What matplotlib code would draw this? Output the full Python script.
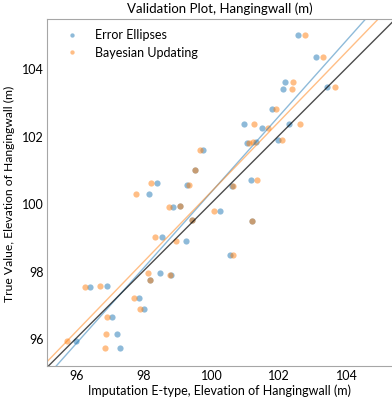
import numpy as np
import matplotlib
matplotlib.use("Agg")
import matplotlib.pyplot as plt

plt.rcParams["font.family"] = ["Lato", "DejaVu Sans"]

# true elevation of hangingwall at each validation location
true_value = [104.98, 104.32, 103.58, 103.37, 103.44, 102.79, 102.35, 102.23,
              102.34, 101.79, 101.80, 101.86, 101.57, 100.68, 100.49, 99.75,
              99.48, 98.47, 100.98, 100.53, 99.87, 99.92, 99.50, 98.87,
              98.99, 97.88, 100.60, 100.26, 97.93, 97.73, 97.50, 97.54,
              97.19, 96.86, 96.62, 96.11, 95.92, 95.69]

# E-type estimate from the error ellipses approach
error_ellipses = [102.57, 103.09, 102.19, 102.11, 103.41, 101.80, 100.97, 101.49,
                  102.31, 101.04, 101.33, 101.96, 99.75, 101.16, 100.61, 100.25,
                  101.20, 100.55, 99.52, 99.29, 98.85, 99.06, 99.42, 99.26,
                  98.54, 98.81, 98.38, 98.16, 98.49, 98.18, 96.41, 96.92,
                  97.85, 98.01, 97.06, 97.19, 95.98, 97.28]

# E-type estimate from bayesian updating
bayesian_updating = [102.76, 103.31, 102.41, 102.39, 103.65, 101.90, 101.27, 101.68,
                     102.62, 101.10, 101.24, 102.10, 99.67, 101.36, 100.64, 100.07,
                     101.20, 100.65, 99.52, 99.34, 98.73, 99.06, 99.42, 98.95,
                     98.33, 98.77, 98.22, 97.78, 98.13, 98.18, 96.24, 96.70,
                     97.70, 97.88, 96.92, 96.88, 95.71, 96.84]


def plot_validation():
    fig = plt.figure(figsize=(3.92, 4.02), dpi=100)
    ax = fig.add_axes([0.12, 0.087, 0.88, 0.863])

    xlim = (95.13, 105.35)
    ylim = (95.17, 105.45)

    ax.scatter(error_ellipses, true_value, s=20, color="C0", alpha=0.5,
               linewidths=0, label="Error Ellipses")
    ax.scatter(bayesian_updating, true_value, s=20, color="C1", alpha=0.5,
               linewidths=0, label="Bayesian Updating")

    # regression lines for each method
    xs = np.array(xlim)
    for est, color in ((error_ellipses, "C0"), (bayesian_updating, "C1")):
        slope, intercept = np.polyfit(est, true_value, 1)
        ax.plot(xs, slope * xs + intercept, color=color, alpha=0.5, linewidth=1)

    # 1:1 line
    ax.plot(xs, xs, color="black", alpha=0.7, linewidth=1)

    ax.set_xlim(xlim)
    ax.set_ylim(ylim)
    ax.set_xticks([96, 98, 100, 102, 104])
    ax.set_yticks([96, 98, 100, 102, 104])
    ax.tick_params(length=0, labelsize=9, pad=2.5)

    for side in ("left", "top", "bottom"):
        ax.spines[side].set_color("#a6a6a6")
    ax.spines["right"].set_visible(False)

    ax.set_title("Validation Plot, Hangingwall (m)", fontsize=9.5, pad=5)
    ax.set_xlabel("Imputation E-type, Elevation of Hangingwall (m)", fontsize=9, labelpad=1.5)
    ax.set_ylabel("True Value, Elevation of Hangingwall (m)", fontsize=8.7, labelpad=5)

    ax.legend(loc="upper left", frameon=False, fontsize=9, markerscale=0.7,
              handletextpad=0.8, borderaxespad=0.6, labelspacing=0.45,
              bbox_to_anchor=(0.0, 1.01))

    fig.savefig("out.png", dpi=100)


if __name__ == "__main__":
    plot_validation()
